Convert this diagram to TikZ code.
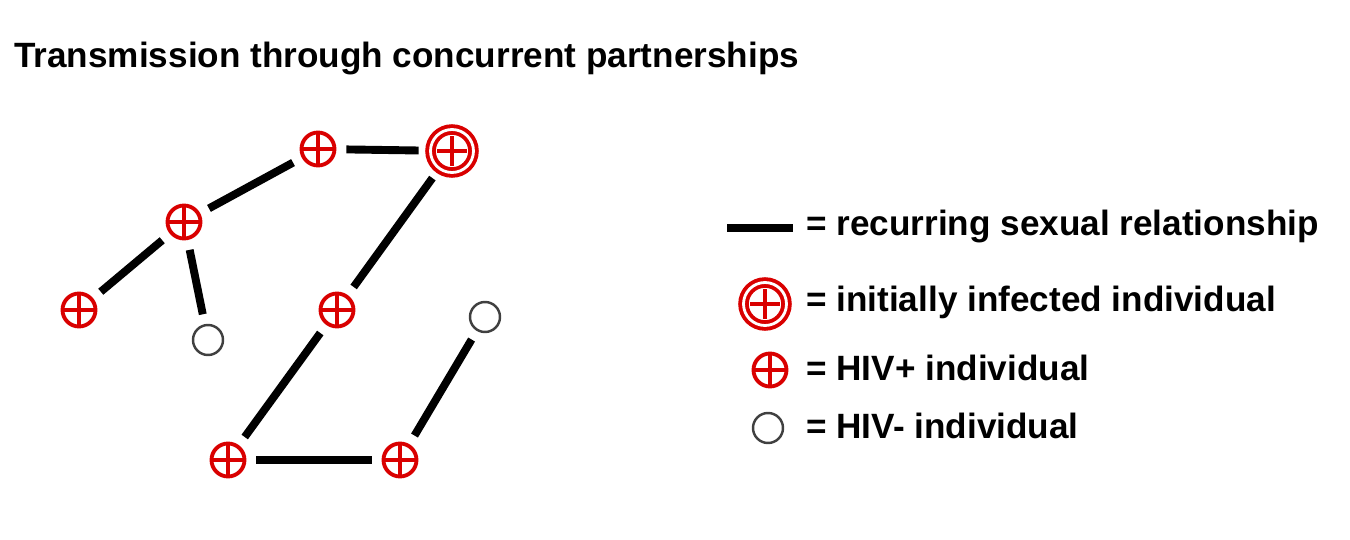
\documentclass[tikz,border=0pt]{standalone}
\usepackage{fontspec}
\setmainfont{Liberation Sans}
\usepackage{tikz}
\usetikzlibrary{positioning, calc}
\tikzset{hivpos/.style={circle, draw=red!85!black, line width=2.2pt, inner sep=0pt, minimum size=0.66cm,
    path picture={\draw[red!85!black, line width=1.8pt] ($(path picture bounding box.center)-(0.3cm,0cm)$) -- ($(path picture bounding box.center)+(0.3cm,0cm)$)
      ($(path picture bounding box.center)-(0cm,0.3cm)$) -- ($(path picture bounding box.center)+(0cm,0.3cm)$);}}}
\tikzset{hivfirst/.style={hivpos, line width=2.2pt, double=white, double distance=1.6pt, minimum size=0.86cm}}
\tikzset{hivneg/.style={circle, draw=black!75, line width=1.4pt, inner sep=0pt, minimum size=0.6cm}}
\tikzset{tie/.style={line width=4.5pt, shorten <=0.2cm, shorten >=0.2cm}}
\tikzset{lab/.style={anchor=west, font=\bfseries\fontsize{20}{24}\selectfont}}
\begin{document}
\begin{tikzpicture}[x=0.02cm, y=-0.02cm]
      \useasboundingbox (0,0) rectangle (1350,540);

      % TITLE

      \node[lab] (title) at (8,58) {Transmission through concurrent partnerships};

      % INDIVIDUALS

      \node[hivpos]   (a) at (318,149) {};
      \node[hivfirst] (b) at (452,151) {};
      \node[hivpos]   (c) at (184,222) {};
      \node[hivpos]   (d) at (79,310)  {};
      \node[hivneg]   (e) at (208,340) {};
      \node[hivpos]   (f) at (337,310) {};
      \node[hivneg]   (g) at (485,317) {};
      \node[hivpos]   (h) at (228,460) {};
      \node[hivpos]   (i) at (400,460) {};

      % RELATIONSHIPS

      \draw[tie] (a) -- (b);
      \draw[tie] (a) -- (c);
      \draw[tie] (c) -- (d);
      \draw[tie] (c) -- (e);
      \draw[tie] (b) -- (f);
      \draw[tie] (f) -- (h);
      \draw[tie] (h) -- (i);
      \draw[tie] (i) -- (g);

      % LEGEND

      \coordinate (l0) at (727,228);
      \coordinate (l1) at (793,228);
      \draw[line width=4.5pt] (l0) -- (l1);
      \node[lab] (t0) at (800,226) {= recurring sexual relationship};
      \node[hivfirst] (k1) at (765,304) {};
      \node[lab] (t1) at (800,302) {= initially infected individual};
      \node[hivpos] (k2) at (770,370) {};
      \node[lab] (t2) at (800,368) {= HIV+ individual};
      \node[hivneg] (k3) at (768,428) {};
      \node[lab] (t3) at (800,426) {= HIV- individual};

    \end{tikzpicture}
\end{document}
